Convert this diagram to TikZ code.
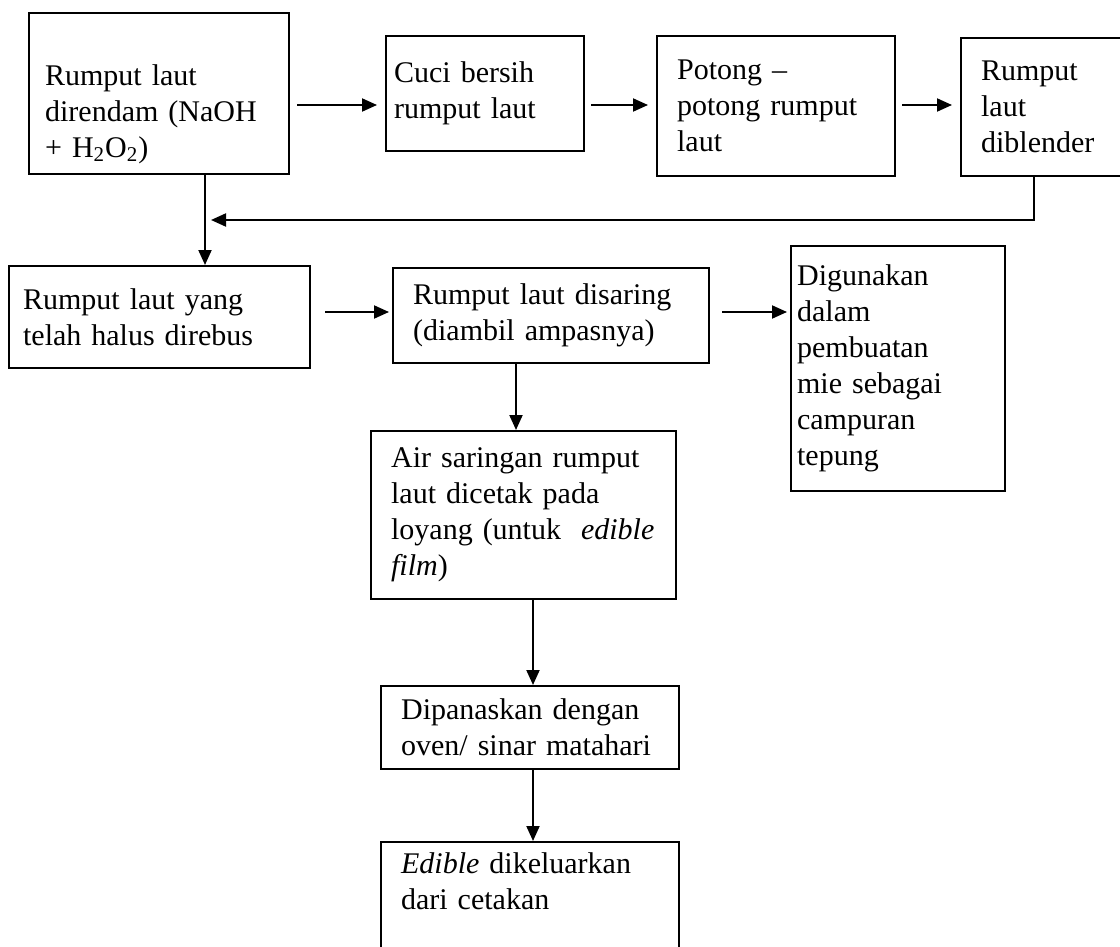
\documentclass[tikz,border=0pt]{standalone}
\usepackage{fontspec}
\setmainfont{Liberation Serif}
\usepackage{tikz}
\usetikzlibrary{arrows.meta, positioning}

\begin{document}
\begin{tikzpicture}[x=0.5pt, y=-0.5pt,
    kotak/.style={draw, line width=1.1pt, anchor=north west, align=left, inner ysep=2pt, inner xsep=10pt, font=\fontsize{15}{18}\selectfont},
    panah/.style={line width=1pt, -{Triangle[length=7.5pt, width=6.5pt]}}]
    \useasboundingbox (0,0) rectangle (1120,947);
    \node[kotak, inner xsep=8pt, text width=114pt, minimum height=80.5pt] (rendam) at (28,12) {\strut\\Rumput laut\\direndam (NaOH\\+ H\textsubscript{2}O\textsubscript{2})};
    \node[kotak, inner xsep=4pt, text width=91pt, minimum height=57.5pt] (cuci) at (385,35) {Cuci bersih\\rumput laut};
    \node[kotak, text width=99pt, minimum height=70pt] (potong) at (656,35) {Potong \textendash\\potong rumput\\laut};
    \node[kotak, text width=65pt, minimum height=69pt] (blender) at (960,37) {Rumput\\laut\\diblender};
    \node[kotak, inner xsep=7pt, text width=136.5pt, minimum height=51pt] (rebus) at (8,265) {Rumput laut yang\\telah halus direbus};
    \node[kotak, text width=138pt, minimum height=47.5pt] (saring) at (392,267) {Rumput laut disaring\\(diambil ampasnya)};
    \node[kotak, inner xsep=3pt, text width=101pt, minimum height=122.5pt] (guna) at (790,245) {Digunakan\\dalam\\pembuatan\\mie sebagai\\campuran\\tepung};
    \node[kotak, text width=132.5pt, minimum height=84pt] (cetak) at (370,430) {Air saringan rumput\\laut dicetak pada\\loyang (untuk\ \ \textit{edible}\\\textit{film})};
    \node[kotak, text width=129pt, minimum height=41.5pt] (panas) at (380,685) {Dipanaskan dengan\\oven/ sinar matahari};
    \node[kotak, text width=129pt, minimum height=80pt] (keluar) at (380,841) {\textit{Edible} dikeluarkan\\dari cetakan\\\strut\\\strut};

    \coordinate (baris1) at (0,105);
    \coordinate (baris2) at (0,312);
    \coordinate (xa) at (205,0);
    \coordinate (xd) at (1034,0);
    \coordinate (xf) at (516,0);
    \coordinate (xi) at (533,0);
    \coordinate (gabung) at (211,220);

    \draw[panah, shorten <=3.5pt, shorten >=4pt] (rendam.east |- baris1) -- (cuci.west |- baris1);
    \draw[panah, shorten <=3pt, shorten >=4pt] (cuci.east |- baris1) -- (potong.west |- baris1);
    \draw[panah, shorten <=3pt, shorten >=4pt] (potong.east |- baris1) -- (blender.west |- baris1);
    \draw[panah] (blender.south -| xd) |- (gabung);
    \draw[panah] (rendam.south -| xa) -- (rebus.north -| xa);
    \draw[panah, shorten <=7pt, shorten >=1.5pt] (rebus.east |- baris2) -- (saring.west |- baris2);
    \draw[panah, shorten <=6pt, shorten >=1.5pt] (saring.east |- baris2) -- (guna.west |- baris2);
    \draw[panah] (saring.south -| xf) -- (cetak.north -| xf);
    \draw[panah] (cetak.south -| xi) -- (panas.north -| xi);
    \draw[panah] (panas.south -| xi) -- (keluar.north -| xi);
\end{tikzpicture}
\end{document}
